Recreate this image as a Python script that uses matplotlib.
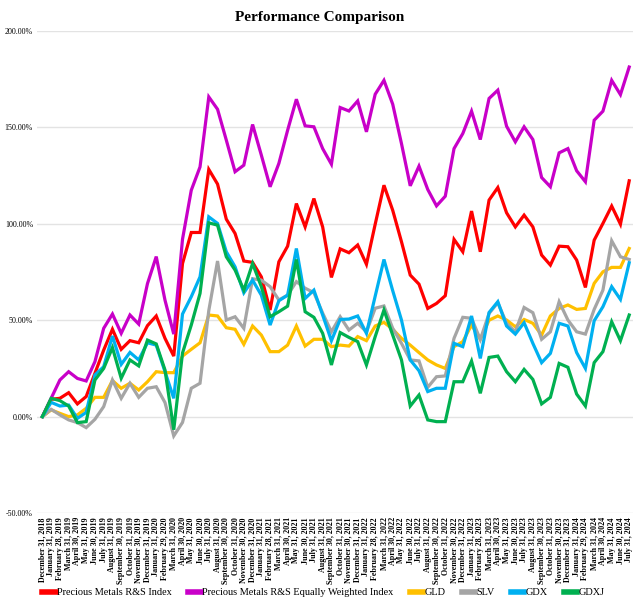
import matplotlib
matplotlib.use("Agg")
import matplotlib.pyplot as plt
import pandas as pd

dates = [d.strftime("%B %d, %Y").replace(" 0", " ") for d in
         pd.date_range("2018-12-31", periods=68, freq="ME")]

rs_index = [0, 9, 9.5, 12.4, 6.6, 10.4, 22.5, 34.5, 45.3, 34.9, 39.4, 38.3, 47.2, 52.2, 40.6, 31.4,
            79.4, 95.5, 95.5, 128.2, 120.6, 102.4, 95, 80.7, 80, 72.5, 55.3, 80.3, 88.4, 110.5, 98.4, 113.1, 98.4, 72.2, 87,
            85, 89, 79, 99.8, 120, 107, 90.7, 73.4, 68.7, 56.1, 58.7, 62.7, 91.9, 85.5, 106.6, 85.5, 112.3,
            118.8, 105.7, 98.4, 104.5, 98.4, 83.8, 78.6, 88.4, 88.1, 81.2, 67, 91.5, 100.2, 109.2, 99.8, 122.3]
rs_ew = [0, 9.5, 19, 23.3, 19.8, 18.5, 28.5, 45.8, 53.2, 43.2, 52.7, 48, 69, 83, 60.4, 42.8,
         92, 117.4, 129.5, 165.8, 159.4, 143.4, 127, 130.4, 151.5, 135.6, 119.2, 131.3, 148.5, 164.6, 150.8, 150.3, 139, 130.9, 160.3,
         158.5, 163.7, 147.7, 167.2, 174.4, 162, 141.6, 119.7, 129.9, 117.8, 109.3, 114.3, 139, 146.8, 158.4, 143.7, 165,
         169.3, 150.6, 142.5, 150.3, 143.7, 124, 119.2, 136.8, 139, 127.5, 121.8, 153.7, 158.4, 174.4, 167, 181.3]
gld = [0, 3.5, 1.7, 0, 0.9, 4.3, 10, 10, 18.7, 14.7, 17.3, 13.8, 18.1, 23.3, 22.8, 22.8,
       31.4, 34.9, 38.3, 52.7, 52.2, 46.1, 45.3, 37.5, 47, 42.3, 33.7, 33.7, 37.1, 47, 36.6, 40.1, 40.1, 36.3, 37.1,
       36.6, 41.5, 39.4, 47, 48.9, 45.3, 40.6, 37.1, 33.2, 29.4, 26.8, 25, 36.3, 38.9, 47.5, 40.1, 50,
       52.2, 50.1, 46.6, 50.4, 48.4, 42.3, 52.2, 56.1, 57.9, 55.6, 56.1, 69.1, 75.1, 77.4, 77.4, 87.2]
slv = [0, 3.8, 0.9, -1.7, -3.1, -5.7, -1.4, 5.2, 19, 9.5, 17.3, 10, 14.7, 15.5, 7.3, -10,
       -3, 14.7, 17.3, 55, 80.7, 50.1, 51.8, 45.8, 71.5, 70.8, 67.4, 60.5, 63, 70, 66.6, 64.3, 53.7, 44, 51.8,
       44.9, 48.4, 44, 56.2, 57.4, 45.8, 38, 29.4, 28.9, 15.2, 20.7, 21.1, 40.6, 51.5, 51, 40, 53.5,
       59.1, 48.4, 44, 56.6, 53.9, 40.1, 44, 59.6, 50.1, 44, 42.8, 55.6, 65.6, 91.2, 82.9, 81.5]
gdx = [0, 7.4, 5.5, 6, -0.9, 2.2, 21.6, 25.9, 41.8, 27.1, 33.3, 29.4, 38.3, 37.1, 23.3, 9.5,
       53.2, 62.2, 72.5, 103.6, 100.2, 85.5, 77.7, 64.2, 70.8, 63, 47.5, 60.1, 63, 87.2, 61.3, 65.6, 52.7, 39.4, 50.4,
       50.6, 52.2, 43.2, 62.5, 81.5, 65.3, 50.1, 29.4, 23.8, 13, 14.7, 14.7, 38, 36.3, 52.2, 30.2, 54,
       59.6, 47, 42.8, 48.7, 38, 28, 32.8, 48.4, 47, 33.2, 25, 49.7, 57, 67.4, 60.8, 79.8]
gdxj = [0, 9.5, 8.3, 5.5, -3.1, -2.6, 19, 25, 35.8, 19.9, 29.4, 26.3, 39.7, 37.7, 24.2, -6.8,
        33, 47.5, 63.9, 100.5, 99.3, 82.9, 76, 65.6, 79.4, 67.4, 51.8, 54.4, 57.3, 81.5, 54.4, 51.5, 43.2, 26.8, 43.6,
        41.1, 38.9, 26.8, 41.5, 55.3, 42.3, 29.4, 5.5, 11.2, -1.7, -2.6, -2.6, 18.1, 18.1, 28.8, 12.1, 30.7,
        31.4, 23.3, 18.1, 24.5, 19.3, 6.6, 10, 27.6, 25.6, 11.7, 5.5, 28, 33.7, 49.2, 39.4, 52.7]

series_names = ["Precious Metals R&S Index", "Precious Metals R&S Equally Weighted Index",
                "GLD", "SLV", "GDX", "GDXJ"]
series_values = [rs_index, rs_ew, gld, slv, gdx, gdxj]
colors = ["#ff0000", "#c800c8", "#ffc000", "#a5a5a5", "#00b0f0", "#00b050"]
yticks = [-50, 0, 50, 100, 150, 200]

plt.rcParams["font.family"] = ["Liberation Serif", "DejaVu Serif"]

fig = plt.figure(figsize=(6.4, 6.05), dpi=100)
ax = fig.add_axes([0.058, 0.152, 0.9306, 0.7968])

x = list(range(len(dates)))
for name, vals, c in zip(series_names, series_values, colors):
    ax.plot(x, vals, color=c, lw=2.3, label=name, solid_joinstyle="miter")

ax.set_ylim(-50, 200)
ax.set_xlim(-0.6, len(dates) - 1 + 0.4)
ax.set_yticks(yticks)
ax.set_yticklabels([f"{v:.2f}%" for v in yticks], fontsize=5.8)
ax.set_xticks(x)
ax.set_xticklabels(dates, rotation=90, fontsize=5.8, fontweight="bold")
ax.tick_params(length=0, pad=3)
ax.grid(axis="y", color="#e3e3e3", lw=1)
ax.set_axisbelow(True)
for s in ax.spines.values():
    s.set_visible(False)

fig.suptitle("Performance Comparison", fontsize=11, fontweight="bold", y=0.981)

leg = fig.legend(loc="center", bbox_to_anchor=(0.505, 0.02), ncol=6, frameon=False,
                 fontsize=7.4, handlelength=1.3, handletextpad=0.1, columnspacing=1.6,
                 borderaxespad=0)
for line in leg.get_lines():
    line.set_linewidth(4)

fig.savefig("out.png", dpi=100)
